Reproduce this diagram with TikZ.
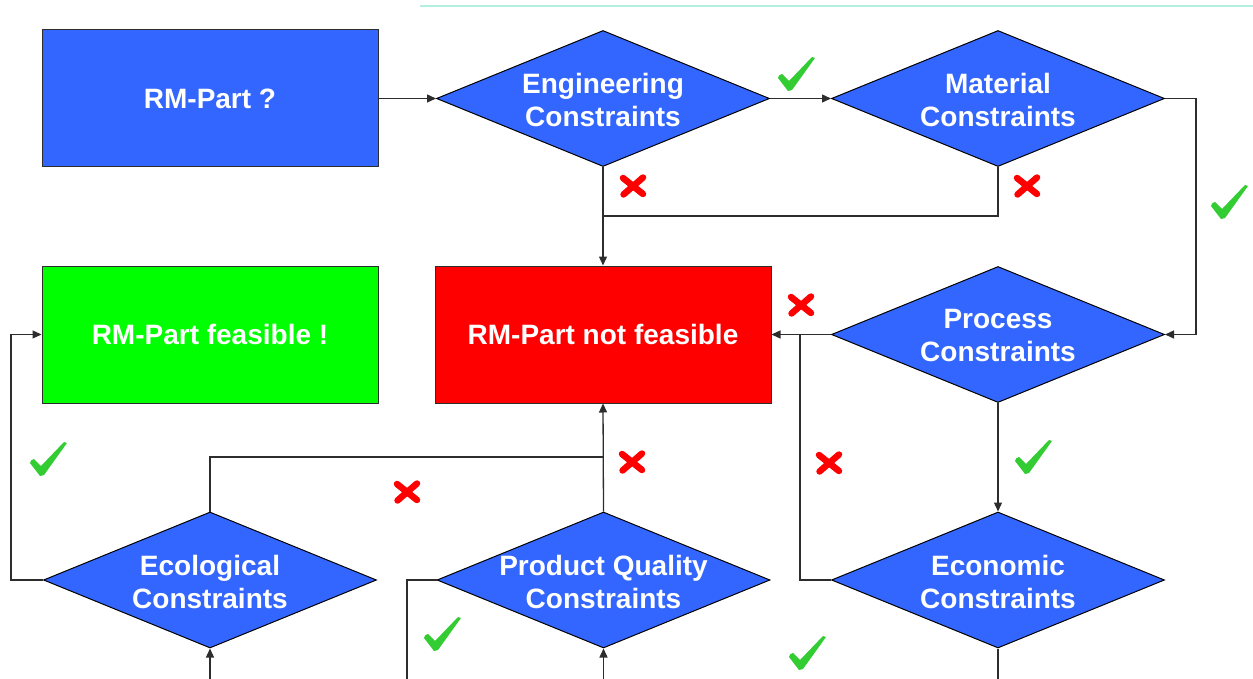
\documentclass[tikz,border=0pt]{standalone}
\usepackage{fontspec}
\setmainfont{Liberation Sans}
\usetikzlibrary{shapes.geometric,arrows.meta}
\definecolor{flowblue}{RGB}{51,102,255}
\definecolor{okgreen}{RGB}{0,255,0}
\definecolor{nogored}{RGB}{255,0,0}
\definecolor{tickgreen}{RGB}{51,204,51}
\definecolor{linegray}{RGB}{45,45,45}
\definecolor{rulecyan}{RGB}{180,240,225}
\tikzset{
  lbl/.style={text=white,font=\bfseries\fontsize{28}{33}\selectfont,align=center},
  stepbox/.style={rectangle,draw=linegray,line width=1pt,minimum width=336pt,minimum height=137pt,inner sep=0pt,lbl},
  decision/.style={diamond,draw=black,line width=1pt,fill=flowblue,minimum width=333pt,minimum height=136pt,inner sep=0pt},
  dlbl/.style={lbl,yshift=-1.5pt},
  link/.style={draw=linegray,line width=1.3pt},
  arr/.style={link,-{Triangle[length=9pt,width=8pt]}},
  yesmark/.pic={\fill[tickgreen] (0,21) .. controls (1,18) .. (4,17) -- (11,24) -- (34,0) -- (37,1) -- (14,33) -- (10,34) -- cycle;},
  nomark/.pic={\draw[nogored,line width=6.5pt,line cap=round] (-10,-8) -- (10,8) (10,-8.5) -- (-9.5,8.5);}
}
\begin{document}
\begin{tikzpicture}[x=1pt,y=-1pt]
\useasboundingbox (0,0) rectangle (1253,679);
% thin rule along the top
\draw[rulecyan,line width=1.5pt] (420,6) -- (1253,6);

% boxes
\node[stepbox,fill=flowblue] (start) at (210,98.5) {RM-Part ?};
\node[stepbox,fill=okgreen] (ok) at (210,334.5) {RM-Part feasible !};
\node[stepbox,fill=nogored] (nok) at (603,334.5) {RM-Part not feasible};

% decisions
\node[decision,label={[dlbl]center:Engineering\\Constraints}] (eng) at (603,98.5) {};
\node[decision,label={[dlbl]center:Material\\Constraints}] (mat) at (998,98.5) {};
\node[decision,label={[dlbl]center:Process\\Constraints}] (proc) at (998,334.5) {};
\node[decision,label={[dlbl]center:Economic\\Constraints}] (econ) at (998,580) {};
\node[decision,label={[dlbl]center:Product Quality\\Constraints}] (qual) at (603.5,580) {};
\node[decision,label={[dlbl]center:Ecological\\Constraints}] (eco) at (210,580) {};

% junctions and open ends
\coordinate (j1) at (603,216);
\coordinate (j2) at (800,334.5);
\coordinate (j3) at (603.5,457);
\coordinate (lx) at (11,450);
\coordinate (econOut) at (998,679);
\coordinate (qualOut) at (407,679);
\coordinate (qualIn) at (603.5,679);
\coordinate (ecoIn) at (210,679);

% connectors
\draw[arr] (start.east) -- (eng.west);
\draw[arr] (eng.east) -- (mat.west);
\draw[arr] (mat.east) -- ++(31,0) |- (proc.east);
\draw[arr] (eng.south) -- (nok.north);
\draw[link] (mat.south) |- (j1);
\draw[arr] (proc.west) -- (nok.east);
\draw[link] (econ.west) -| (j2);
\draw[arr] (proc.south) -- (econ.north);
\draw[link] (econ.south) -- (econOut);
\draw[arr] (qual.north) -- (nok.south);
\draw[link] (eco.north) |- (j3);
\draw[link] (qual.west) -| (qualOut);
\draw[arr] (qualIn) -- (qual.south);
\draw[arr] (ecoIn) -- (eco.south);
\draw[arr] (eco.west) -| (lx) |- (ok.west);

% pass marks
\pic at (778,57) {yesmark};
\pic at (1211,185) {yesmark};
\pic at (1015,440) {yesmark};
\pic at (30,442) {yesmark};
\pic at (424,617) {yesmark};
\pic at (789,636) {yesmark};

% fail marks
\pic at (633,186) {nomark};
\pic at (1027,186) {nomark};
\pic at (801,305) {nomark};
\pic at (829,463) {nomark};
\pic at (632,462) {nomark};
\pic at (407,492) {nomark};
\end{tikzpicture}
\end{document}
